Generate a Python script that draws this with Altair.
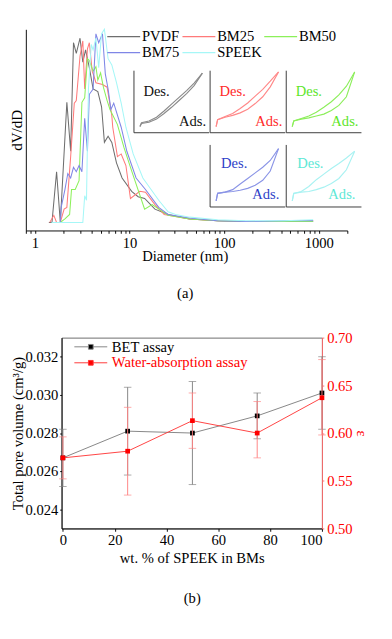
import altair as alt
import pandas as pd

FONT = "Liberation Serif, Times New Roman, serif"
FS = 15.5

# ---------------- panel (a): pore size distribution ----------------
series_names = ["PVDF", "BM25", "BM50", "BM75", "SPEEK"]
series_colors = ["#6e6e6e", "#ff7a7a", "#8cf05a", "#7f86e6", "#a6f7f7"]

pvdf_d = [1.40, 1.51, 1.69, 1.85, 2.17, 2.38, 2.55, 2.73, 2.99, 3.20, 3.42, 3.75, 4.11, 4.61, 5.05,
          5.41, 5.92, 6.48, 7.26, 8.32, 10.5, 12.3, 14.4, 18.5, 25.5, 43, 85, 169, 420, 870]
pvdf_v = [0, 0, 57, 0, 135, 80, 202, 190, 207, 180, 194, 174, 150, 147, 130,
          90, 97, 90, 67, 50, 35, 29, 27, 15, 9, 4, 2, 1, 1, 2]

bm25_d = [1.43, 1.58, 1.69, 1.85, 2.03, 2.17, 2.38, 2.60, 2.73, 2.99, 3.20, 3.35, 3.58, 3.75, 4.02,
          4.21, 4.40, 5.16, 5.78, 6.48, 6.63, 7.43, 8.14, 9.13, 10.2, 12.8, 14.7, 18.5, 23.2,
          43, 85, 169, 420, 870]
bm25_v = [0, 8, 0, 0, 15, 17, 74, 134, 137, 187, 204, 150, 195, 202, 170,
          164, 157, 155, 152, 120, 107, 74, 77, 64, 27, 35, 34, 20, 9,
          4, 2, 1, 1, 1]

bm50_d = [1.50, 1.85, 2.07, 2.32, 2.43, 2.66, 2.92, 3.13, 3.35, 3.58, 3.75, 4.11, 4.40, 4.61, 4.93,
          5.28, 5.78, 6.20, 7.43, 8.72, 10.5, 14.4, 17.3, 25.5, 43, 85, 169, 420, 870]
bm50_v = [0, 0, 4, 9, 37, 37, 47, 135, 140, 184, 182, 170, 175, 160, 168,
          152, 137, 127, 110, 84, 58, 15, 20, 8, 4, 2, 1, 1, 1]

bm75_d = [1.50, 1.85, 1.89, 2.07, 2.22, 2.38, 2.55, 2.73, 2.92, 3.13, 3.35, 3.58, 3.75, 4.11, 4.40,
          4.71, 5.16, 5.53, 5.92, 6.34, 6.79, 8.14, 9.34, 11.7, 14.7, 20.3, 25.5, 43, 85, 169, 420, 870]
bm75_v = [0, 0, 17, 37, 55, 50, 62, 57, 64, 57, 117, 80, 144, 150, 212,
          202, 212, 167, 150, 127, 134, 107, 80, 50, 37, 17, 9, 5, 2, 1, 2, 2]

speek_d = [1.50, 3.20, 3.35, 3.50, 3.58, 3.67, 3.93, 4.11, 4.40, 4.71, 5.05, 5.41, 5.92, 6.48, 7.26,
           8.14, 9.13, 10.9, 13.8, 20.3, 25.5, 30.6, 43, 85, 169, 420, 870]
speek_v = [0, 0, 30, 25, 90, 150, 200, 194, 207, 174, 212, 217, 184, 177, 157,
           134, 107, 77, 50, 25, 12, 9, 6, 3, 2, 2, 3]

x_ticks = [0.8, 0.9, 1, 2, 3, 4, 5, 6, 7, 8, 9, 10, 20, 30, 40, 50, 60, 70, 80, 90,
           100, 200, 300, 400, 500, 600, 700, 800, 900, 1000, 2000]

# isotherm insets (relative pressure p, adsorbed volume, both scaled 0..1)
iso_p = [0.08, 0.10, 0.2, 0.3, 0.4, 0.5, 0.6, 0.7, 0.8, 0.91]
ads_pvdf = [0.10, 0.15, 0.17, 0.22, 0.31, 0.41, 0.52, 0.63, 0.76, 0.96]
des_pvdf = [0.10, 0.16, 0.19, 0.25, 0.35, 0.46, 0.57, 0.68, 0.80, 0.96]
ads_bm25 = [0.10, 0.21, 0.25, 0.28, 0.32, 0.38, 0.47, 0.58, 0.74, 0.98]
des_bm25 = [0.10, 0.21, 0.26, 0.31, 0.39, 0.48, 0.59, 0.70, 0.83, 0.98]
ads_bm50 = [0.10, 0.19, 0.22, 0.24, 0.27, 0.30, 0.36, 0.44, 0.58, 0.98]
des_bm50 = [0.10, 0.19, 0.23, 0.27, 0.33, 0.41, 0.50, 0.61, 0.75, 0.98]
ads_bm75 = [0.10, 0.22, 0.24, 0.25, 0.27, 0.30, 0.35, 0.43, 0.58, 0.94]
des_bm75 = [0.10, 0.22, 0.24, 0.28, 0.37, 0.46, 0.55, 0.64, 0.75, 0.94]
ads_speek = [0.10, 0.22, 0.24, 0.25, 0.28, 0.32, 0.38, 0.46, 0.60, 0.90]
des_speek = [0.10, 0.22, 0.25, 0.33, 0.44, 0.53, 0.62, 0.70, 0.79, 0.90]
inset_curve_colors = ["#8a8a8a", "#ff8888", "#8cee5a", "#8a94e6", "#a8f2f2"]
inset_text_colors = ["#111111", "#ff2a2a", "#5ee62a", "#2f3fc8", "#5ee8d6"]
inset_labels = ["Des.", "Ads."]

# ---------------- panel (b): total pore volume ----------------
wt = [0, 25, 50, 75, 100]
bet = [0.0267, 0.0281, 0.0280, 0.0289, 0.0301]
bet_lo = [0.0252, 0.0258, 0.0253, 0.0277, 0.0282]
bet_hi = [0.0282, 0.0304, 0.0307, 0.0301, 0.0320]
water = [0.574, 0.581, 0.613, 0.600, 0.637]
water_lo = [0.552, 0.535, 0.584, 0.574, 0.598]
water_hi = [0.596, 0.627, 0.642, 0.633, 0.677]
legend_b = ["BET assay", "Water-absorption assay"]

# ================= layout (pixels, relative to the shared plot origin) =================
SHIFT = 38            # panel (a) starts this far left of panel (b)'s plot area
TOP_W = 304
TOP_H = 214
BOX_W = 80
BOX_H = 66

# ================= build panel (a) =================
rows = []
for name, ds, vs in zip(series_names,
                        [pvdf_d, bm25_d, bm50_d, bm75_d, speek_d],
                        [pvdf_v, bm25_v, bm50_v, bm75_v, speek_v]):
    for d, v in zip(ds, vs):
        rows.append({"series": name, "D": d, "V": v})
psd = pd.DataFrame(rows)

label_expr = ("datum.value == 1 || datum.value == 10 || datum.value == 100 || "
              "datum.value == 1000 ? format(datum.value, 'd') : ''")

main = alt.Chart(psd).mark_line(strokeWidth=1.1).encode(
    x=alt.X("D:Q",
            scale=alt.Scale(type="log", domain=[0.8, 2000], nice=False, range=[-SHIFT, TOP_W]),
            axis=alt.Axis(values=x_ticks, labelExpr=label_expr, labelOverlap=False,
                          title=["Diameter (nm)", "(a)"], titleLineHeight=40,
                          tickSize=3, labelPadding=3,
                          titlePadding=-2, titleX=(TOP_W - SHIFT) / 2 - 2)),
    y=alt.Y("V:Q",
            scale=alt.Scale(domain=[-9, 217], nice=False, zero=False),
            axis=alt.Axis(labels=False, ticks=False, title="dV/dD", offset=SHIFT,
                          titlePadding=2, titleFontSize=16)),
    color=alt.Color("series:N",
                    scale=alt.Scale(domain=series_names, range=series_colors),
                    legend=alt.Legend(title=None, orient="none", legendX=70, legendY=0,
                                      direction="horizontal",
                                      columns=3, gridAlign="none",
                                      symbolType="M-5,0H1",
                                      symbolSize=136, symbolStrokeWidth=1.2,
                                      labelFont=FONT, labelFontSize=FS, labelOffset=0,
                                      labelColor="#000", columnPadding=0, rowPadding=0)),
)

inset_data = [
    (ads_pvdf, des_pvdf), (ads_bm25, des_bm25), (ads_bm50, des_bm50),
    (ads_bm75, des_bm75), (ads_speek, des_speek),
]
inset_x0 = [77, 158, 239, 158, 239]      # left edge of each inset box in the plot
inset_ybot = [110, 110, 110, 189, 189]   # bottom edge of each inset box in the plot
inset_text_x = [[0.30, 0.78], [0.30, 0.78], [0.30, 0.78], [0.32, 0.74], [0.32, 0.74]]
inset_text_y = [[0.67, 0.18], [0.67, 0.18], [0.67, 0.18], [0.70, 0.21], [0.70, 0.21]]


def box_domain(lo_px, size_px, total_px, flip):
    # scale domain so that 0..1 occupies [lo_px, lo_px + size_px] of the panel
    span = total_px / size_px
    if flip:
        start = -(total_px - lo_px) / size_px
    else:
        start = -lo_px / size_px
    return [start, start + span]


def make_inset(i):
    ads, des = inset_data[i]
    xs = alt.Scale(domain=box_domain(inset_x0[i], BOX_W, TOP_W, False), nice=False, zero=False)
    ys = alt.Scale(domain=box_domain(inset_ybot[i], BOX_H, TOP_H, True), nice=False, zero=False)
    frame_df = pd.DataFrame({"fx": [0, 0], "fy": [0, 0], "fx2": [0, 1], "fy2": [1, 0]})
    frame = alt.Chart(frame_df).mark_rule(color="#333333", strokeWidth=1).encode(
        x=alt.X("fx:Q", scale=xs, axis=None), y=alt.Y("fy:Q", scale=ys, axis=None),
        x2="fx2:Q", y2="fy2:Q")
    cdf = pd.DataFrame({
        "p": iso_p + iso_p,
        "v": ads + des,
        "branch": ["ads"] * len(iso_p) + ["des"] * len(iso_p),
    })
    curve = alt.Chart(cdf).mark_line(color=inset_curve_colors[i], strokeWidth=1.2).encode(
        x=alt.X("p:Q", scale=xs, axis=None), y=alt.Y("v:Q", scale=ys, axis=None),
        detail="branch:N")
    tdf = pd.DataFrame({"label": inset_labels, "tx": inset_text_x[i], "ty": inset_text_y[i]})
    text = alt.Chart(tdf).mark_text(font=FONT, fontSize=FS, color=inset_text_colors[i]).encode(
        x=alt.X("tx:Q", scale=xs, axis=None), y=alt.Y("ty:Q", scale=ys, axis=None),
        text="label:N")
    return alt.layer(frame, curve, text)


top = alt.layer(main, *[make_inset(i) for i in range(5)]).resolve_scale(
    x="independent", y="independent"
).properties(
    width=TOP_W, height=TOP_H,
    view=alt.ViewBackground(stroke="transparent"),
)

# ================= build panel (b) =================
bdf = pd.DataFrame({"wt": wt, "bet": bet, "bet_lo": bet_lo, "bet_hi": bet_hi,
                    "water": water, "water_lo": water_lo, "water_hi": water_hi})
base = alt.Chart(bdf)

xb = alt.X("wt:Q", scale=alt.Scale(domain=[-0.5, 100], nice=False, zero=False),
           axis=alt.Axis(values=[0, 20, 40, 60, 80, 100], format="d",
                         title=["wt. % of SPEEK in BMs", "(b)"], titleLineHeight=42,
                         tickSize=3, labelPadding=2, titlePadding=4))
sc_l = alt.Scale(domain=[0.023, 0.033], nice=False, zero=False)
ax_l = alt.Axis(values=[0.024, 0.026, 0.028, 0.030, 0.032], format=".3f",
                title="Total pore volume (cm³/g)", tickSize=2, labelPadding=2, titlePadding=0)
sc_r = alt.Scale(domain=[0.5, 0.7], nice=False, zero=False)
ax_r = alt.Axis(orient="right", values=[0.50, 0.55, 0.60, 0.65, 0.70], format=".2f",
                title="ε", labelColor="#ff0000", titleColor="#ff0000",
                domainColor="#ff6a6a", tickColor="#ff6a6a", tickSize=2, labelPadding=3,
                titlePadding=2)

color_b = alt.Color("series:N",
                    scale=alt.Scale(domain=legend_b, range=["#000000", "#ff0000"]),
                    legend=alt.Legend(
                        title=None, orient="none", legendX=35, legendY=2,
                        symbolType="M-5,0H-2.43M-1.57,0H1M-2.43,-0.43H-1.57V0.43H-2.43Z",
                        symbolSize=136, symbolStrokeWidth=1,
                        symbolStrokeColor={"expr": "datum.label == 'BET assay' ? '#808080' : '#ff3030'"},
                        labelColor={"expr": "datum.label == 'BET assay' ? '#000000' : '#ff0000'"},
                        labelFont=FONT, labelFontSize=FS, labelOffset=3, rowPadding=0))

BET_GREY = "#808080"
bet_line = base.mark_line(color=BET_GREY, strokeWidth=1).encode(
    x=xb, y=alt.Y("bet:Q", scale=sc_l, axis=ax_l))
bet_err = base.mark_rule(color=BET_GREY, strokeWidth=1).encode(
    x=xb, y=alt.Y("bet_lo:Q", scale=sc_l, axis=ax_l), y2="bet_hi:Q")
bet_cap_lo = base.mark_tick(color=BET_GREY, orient="horizontal", size=8, thickness=1).encode(
    x=xb, y=alt.Y("bet_lo:Q", scale=sc_l, axis=ax_l))
bet_cap_hi = base.mark_tick(color=BET_GREY, orient="horizontal", size=8, thickness=1).encode(
    x=xb, y=alt.Y("bet_hi:Q", scale=sc_l, axis=ax_l))
bet_pts = base.transform_calculate(series="'BET assay'").mark_point(
    shape="square", filled=True, size=25, opacity=1).encode(
    x=xb, y=alt.Y("bet:Q", scale=sc_l, axis=ax_l), color=color_b)
left = alt.layer(bet_line, bet_err, bet_cap_lo, bet_cap_hi, bet_pts)

W_LINE = "#ff3a3a"
W_ERR = "#ff8080"
w_line = base.mark_line(color=W_LINE, strokeWidth=1).encode(
    x=xb, y=alt.Y("water:Q", scale=sc_r, axis=ax_r))
w_err = base.mark_rule(color=W_ERR, strokeWidth=1).encode(
    x=xb, y=alt.Y("water_lo:Q", scale=sc_r, axis=ax_r), y2="water_hi:Q")
w_cap_lo = base.mark_tick(color=W_ERR, orient="horizontal", size=8, thickness=1).encode(
    x=xb, y=alt.Y("water_lo:Q", scale=sc_r, axis=ax_r))
w_cap_hi = base.mark_tick(color=W_ERR, orient="horizontal", size=8, thickness=1).encode(
    x=xb, y=alt.Y("water_hi:Q", scale=sc_r, axis=ax_r))
w_pts = base.transform_calculate(series="'Water-absorption assay'").mark_point(
    shape="square", filled=True, size=25, opacity=1).encode(
    x=xb, y=alt.Y("water:Q", scale=sc_r, axis=ax_r), color=color_b)
right = alt.layer(w_line, w_err, w_cap_lo, w_cap_hi, w_pts)

bottom = alt.layer(left, right).resolve_scale(y="independent").properties(
    width=277, height=203,
)

chart = alt.vconcat(top, bottom, spacing=30).resolve_scale(color="independent").properties(
    padding=0
).configure(font=FONT).configure_axis(
    labelFont=FONT, titleFont=FONT, labelFontSize=FS, titleFontSize=FS,
    titleFontWeight="normal", grid=False, domainColor="#000000", tickColor="#000000",
    labelColor="#000000", titleColor="#000000"
).configure_view(stroke="#666666")

chart.save("out.html", embed_options={"renderer": "svg", "actions": False})
